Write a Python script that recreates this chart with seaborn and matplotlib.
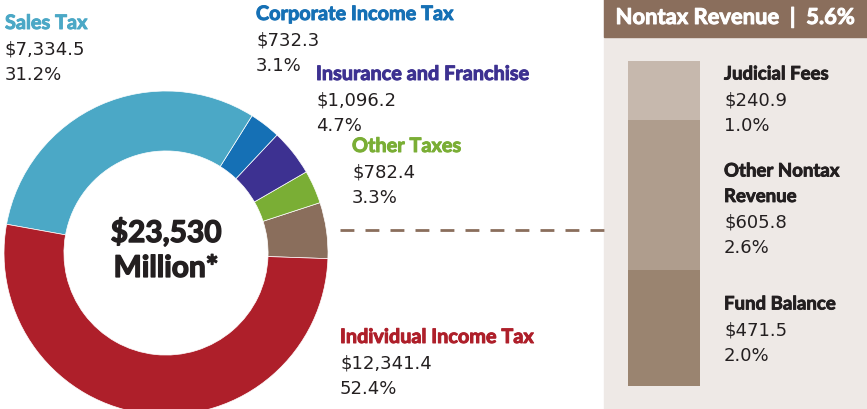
import matplotlib
matplotlib.use("Agg")
import matplotlib.pyplot as plt
import matplotlib.patheffects as pe
import seaborn as sns
import pandas as pd

# Revenue sources, millions of dollars (pie order, counterclockwise from the right)
categories = ["Nontax Revenue", "Other Taxes", "Insurance and Franchise",
              "Corporate Income Tax", "Sales Tax", "Individual Income Tax"]
amounts = [1318.2, 782.4, 1096.2, 732.3, 7334.5, 12341.4]
amount_labels = ["", "$782.4", "$1,096.2", "$732.3", "$7,334.5", "$12,341.4"]
pct_labels = ["5.6%", "3.3%", "4.7%", "3.1%", "31.2%", "52.4%"]
colors = ["#8a6e5c", "#7aae35", "#3d3191", "#1570b5", "#4ba8c6", "#ae1f2a"]

# Nontax breakdown, bottom to top
nontax_names = ["Fund Balance", "Other Nontax\nRevenue", "Judicial Fees"]
nontax_amounts = [471.5, 605.8, 240.9]
nontax_amount_labels = ["$471.5", "$605.8", "$240.9"]
nontax_pct_labels = ["2.0%", "2.6%", "1.0%"]
nontax_colors = ["#9a8470", "#af9d8d", "#c6b8ad"]

total_label = "$23,530\nMillion*"

sns.set_theme(style="white")
plt.rcParams["font.family"] = ["Lato", "DejaVu Sans"]
num_font = ["DejaVu Sans"]
num_size = 13
dark = "#231f20"


def heavy(col, w=0.7):
    # fake a black weight with a thin outline in the same colour
    return [pe.withStroke(linewidth=w, foreground=col)]


W, H = 867, 410
fig = plt.figure(figsize=(W / 100, H / 100), dpi=100)

# overlay axes in pixel coordinates (y down)
ov = fig.add_axes([0, 0, 1, 1])
ov.set_xlim(0, W)
ov.set_ylim(H, 0)
ov.axis("off")

# right panel
ov.add_patch(plt.Rectangle((604, 0), W - 604, H, color="#eee9e6", zorder=0))
ov.add_patch(plt.Rectangle((604, 0), W - 604, 38, color="#8a6e5c", zorder=1))
ov.text(736, 18, "Nontax Revenue  |  5.6%", color="white", fontsize=15.8,
        fontweight="bold", ha="center", va="center", zorder=2,
        path_effects=heavy("white"))
ov.plot([340, 604], [231, 231], ls=(0, (5, 4)), color="#8a6e5c", lw=2)

# donut
cx, cy, r = 166, 254, 162
pax = fig.add_axes([(cx - r) / W, (H - cy - r) / H, 2 * r / W, 2 * r / H])
pax.pie(amounts, colors=colors, startangle=-2, counterclock=True,
        radius=1, wedgeprops=dict(width=0.37, edgecolor="white", linewidth=0.5))
pax.set_xlim(-1, 1)
pax.set_ylim(-1, 1)
pax.set_aspect("equal")
pax.axis("off")
pax.text(0, 0.02, total_label, ha="center", va="center", fontsize=21.5,
         fontweight="bold", color=dark, linespacing=1.3,
         path_effects=heavy(dark, 1.0))

# labels around the donut
label_pos = {
    "Sales Tax": (5, 24),
    "Corporate Income Tax": (256, 15),
    "Insurance and Franchise": (316, 75),
    "Other Taxes": (352, 147),
    "Individual Income Tax": (340, 338),
}
step = 25.5
for name, amt, pct, col in zip(categories, amount_labels, pct_labels, colors):
    if name not in label_pos:
        continue
    x, y = label_pos[name]
    ov.text(x, y, name, color=col, fontsize=14.3, fontweight="bold", va="center",
            path_effects=heavy(col))
    ov.text(x, y + step, amt, color=dark, fontsize=num_size, va="center", family=num_font)
    ov.text(x, y + 2 * step, pct, color=dark, fontsize=num_size, va="center", family=num_font)

# stacked nontax bar (drawn as cumulative layers)
bx0, bx1, by0, by1 = 628, 700, 62, 387
bax = fig.add_axes([bx0 / W, (H - by1) / H, (bx1 - bx0) / W, (by1 - by0) / H])
cum = pd.Series(nontax_amounts).cumsum().tolist()
for height, col in sorted(zip(cum, nontax_colors), reverse=True):
    sns.barplot(x=["Nontax"], y=[height], color=col, width=1, saturation=1,
                ax=bax, linewidth=0)
bax.set_xlim(-0.5, 0.5)
bax.set_ylim(0, cum[-1])
bax.axis("off")

nontax_pos = [305, 172, 75]
for name, amt, pct, y in zip(nontax_names, nontax_amount_labels,
                             nontax_pct_labels, nontax_pos):
    lines = name.split("\n")
    for i, ln in enumerate(lines):
        ov.text(724, y + i * step, ln, color=dark, fontsize=13.4,
                fontweight="bold", va="center", path_effects=heavy(dark, 0.6))
    n = len(lines)
    ov.text(724, y + n * step, amt, color=dark, fontsize=num_size, va="center", family=num_font)
    ov.text(724, y + (n + 1) * step, pct, color=dark, fontsize=num_size, va="center", family=num_font)

fig.savefig("out.png", dpi=100)
